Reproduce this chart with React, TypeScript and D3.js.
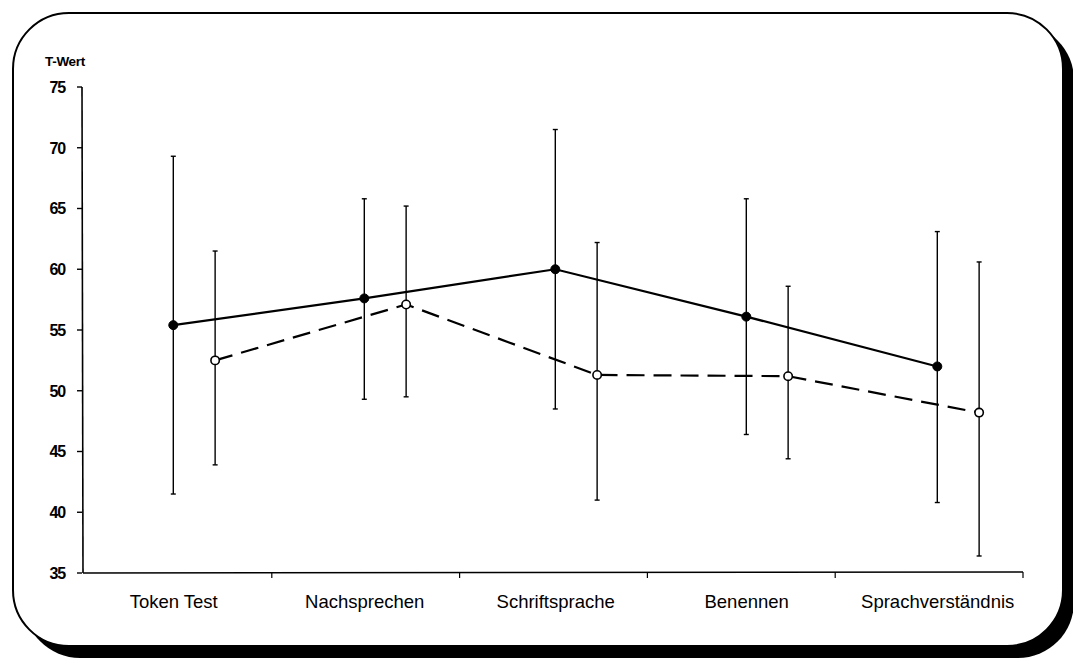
import React from "react";
import * as d3 from "d3";

const categories = ["Token Test", "Nachsprechen", "Schriftsprache", "Benennen", "Sprachverständnis"];
const yTicks = [35, 40, 45, 50, 55, 60, 65, 70, 75];

// Series 1 (solid line, filled markers)
const solidMean = [55.4, 57.6, 60.0, 56.1, 52.0];
const solidHigh = [69.3, 65.8, 71.5, 65.8, 63.1];
const solidLow = [41.5, 49.3, 48.5, 46.4, 40.8];

// Series 2 (dashed line, open markers)
const openMean = [52.5, 57.1, 51.3, 51.2, 48.2];
const openHigh = [61.5, 65.2, 62.2, 58.6, 60.6];
const openLow = [43.9, 49.5, 41.0, 44.4, 36.4];

const W = 1073;
const H = 659;

export default function App() {
  const y = d3.scaleLinear().domain([35, 75]).range([573, 87]);
  // scale for data marks and labels
  const x = d3.scaleBand<string>().domain(categories).range([82, 1037]).padding(0);
  const bw = x.bandwidth();
  // scale for the drawn category axis
  const xa = d3.scaleBand<string>().domain(categories).range([84, 1023]).padding(0);
  const abw = xa.bandwidth();
  const xs = (c: string) => (x(c) as number) + bw * 0.478;
  const xo = (c: string) => (x(c) as number) + bw * 0.697;

  const line = d3
    .line<[number, number]>()
    .x((d) => d[0])
    .y((d) => d[1]);

  const solidPts: [number, number][] = categories.map((c, i) => [xs(c), y(solidMean[i])]);
  const openPts: [number, number][] = categories.map((c, i) => [xo(c), y(openMean[i])]);

  const font = "'Liberation Sans', Arial, sans-serif";

  const errBar = (cx: number, lo: number, hi: number, key: string) => (
    <g key={key} stroke="#000" strokeWidth={1.4}>
      <line x1={cx} x2={cx} y1={y(hi)} y2={y(lo)} />
      <line x1={cx - 2.5} x2={cx + 2.5} y1={y(hi)} y2={y(hi)} />
      <line x1={cx - 2.5} x2={cx + 2.5} y1={y(lo)} y2={y(lo)} />
    </g>
  );

  return (
    <svg
      width={W}
      height={H}
      style={{ position: "absolute", left: 0, top: 0, background: "#fff" }}
    >
      {/* frame with shadow */}
      <rect x={24} y={24} width={1050} height={634} rx={56} ry={56} fill="#000" />
      <rect x={13} y={13} width={1050} height={633} rx={56} ry={56} fill="#fff" stroke="#000" strokeWidth={2} />

      {/* y axis title */}
      <text x={45} y={66} fontFamily={font} fontWeight="bold" fontSize={13.5} letterSpacing={-0.3} fill="#000">
        T-Wert
      </text>

      {/* y axis */}
      <line x1={82} x2={83} y1={y(75)} y2={y(35)} stroke="#000" strokeWidth={1.6} />
      {yTicks.map((t) => (
        <g key={t}>
          <line x1={77} x2={82} y1={y(t)} y2={y(t)} stroke="#000" strokeWidth={1.4} />
          <text
            x={65}
            y={y(t)}
            dy="0.36em"
            textAnchor="end"
            fontFamily={font}
            fontWeight="bold"
            fontSize={16}
            letterSpacing={-1.2}
            fill="#000"
          >
            {t}
          </text>
        </g>
      ))}

      {/* x axis */}
      <line x1={83} x2={1023} y1={573} y2={572} stroke="#000" strokeWidth={1.6} />
      {categories.map((c) => (
        <line
          key={"t" + c}
          x1={(xa(c) as number) + abw}
          x2={(xa(c) as number) + abw}
          y1={572}
          y2={578}
          stroke="#000"
          strokeWidth={1.2}
        />
      ))}
      {categories.map((c) => (
        <text
          key={"l" + c}
          x={(x(c) as number) + bw * 0.48}
          y={608}
          textAnchor="middle"
          fontFamily={font}
          fontSize={18.5}
          fill="#000"
        >
          {c}
        </text>
      ))}

      {/* lines */}
      <path d={line(solidPts) || ""} fill="none" stroke="#000" strokeWidth={2.2} />
      <path
        d={line(openPts) || ""}
        fill="none"
        stroke="#000"
        strokeWidth={2.2}
        strokeDasharray="18,9"
      />

      {/* error bars */}
      {categories.map((c, i) => errBar(xs(c), solidLow[i], solidHigh[i], "es" + i))}
      {categories.map((c, i) => errBar(xo(c), openLow[i], openHigh[i], "eo" + i))}

      {/* markers */}
      {solidPts.map((p, i) => (
        <circle key={"ms" + i} cx={p[0]} cy={p[1]} r={4.5} fill="#000" stroke="#000" strokeWidth={1} />
      ))}
      {openPts.map((p, i) => (
        <circle key={"mo" + i} cx={p[0]} cy={p[1]} r={4.2} fill="#fff" stroke="#000" strokeWidth={1.6} />
      ))}
    </svg>
  );
}
